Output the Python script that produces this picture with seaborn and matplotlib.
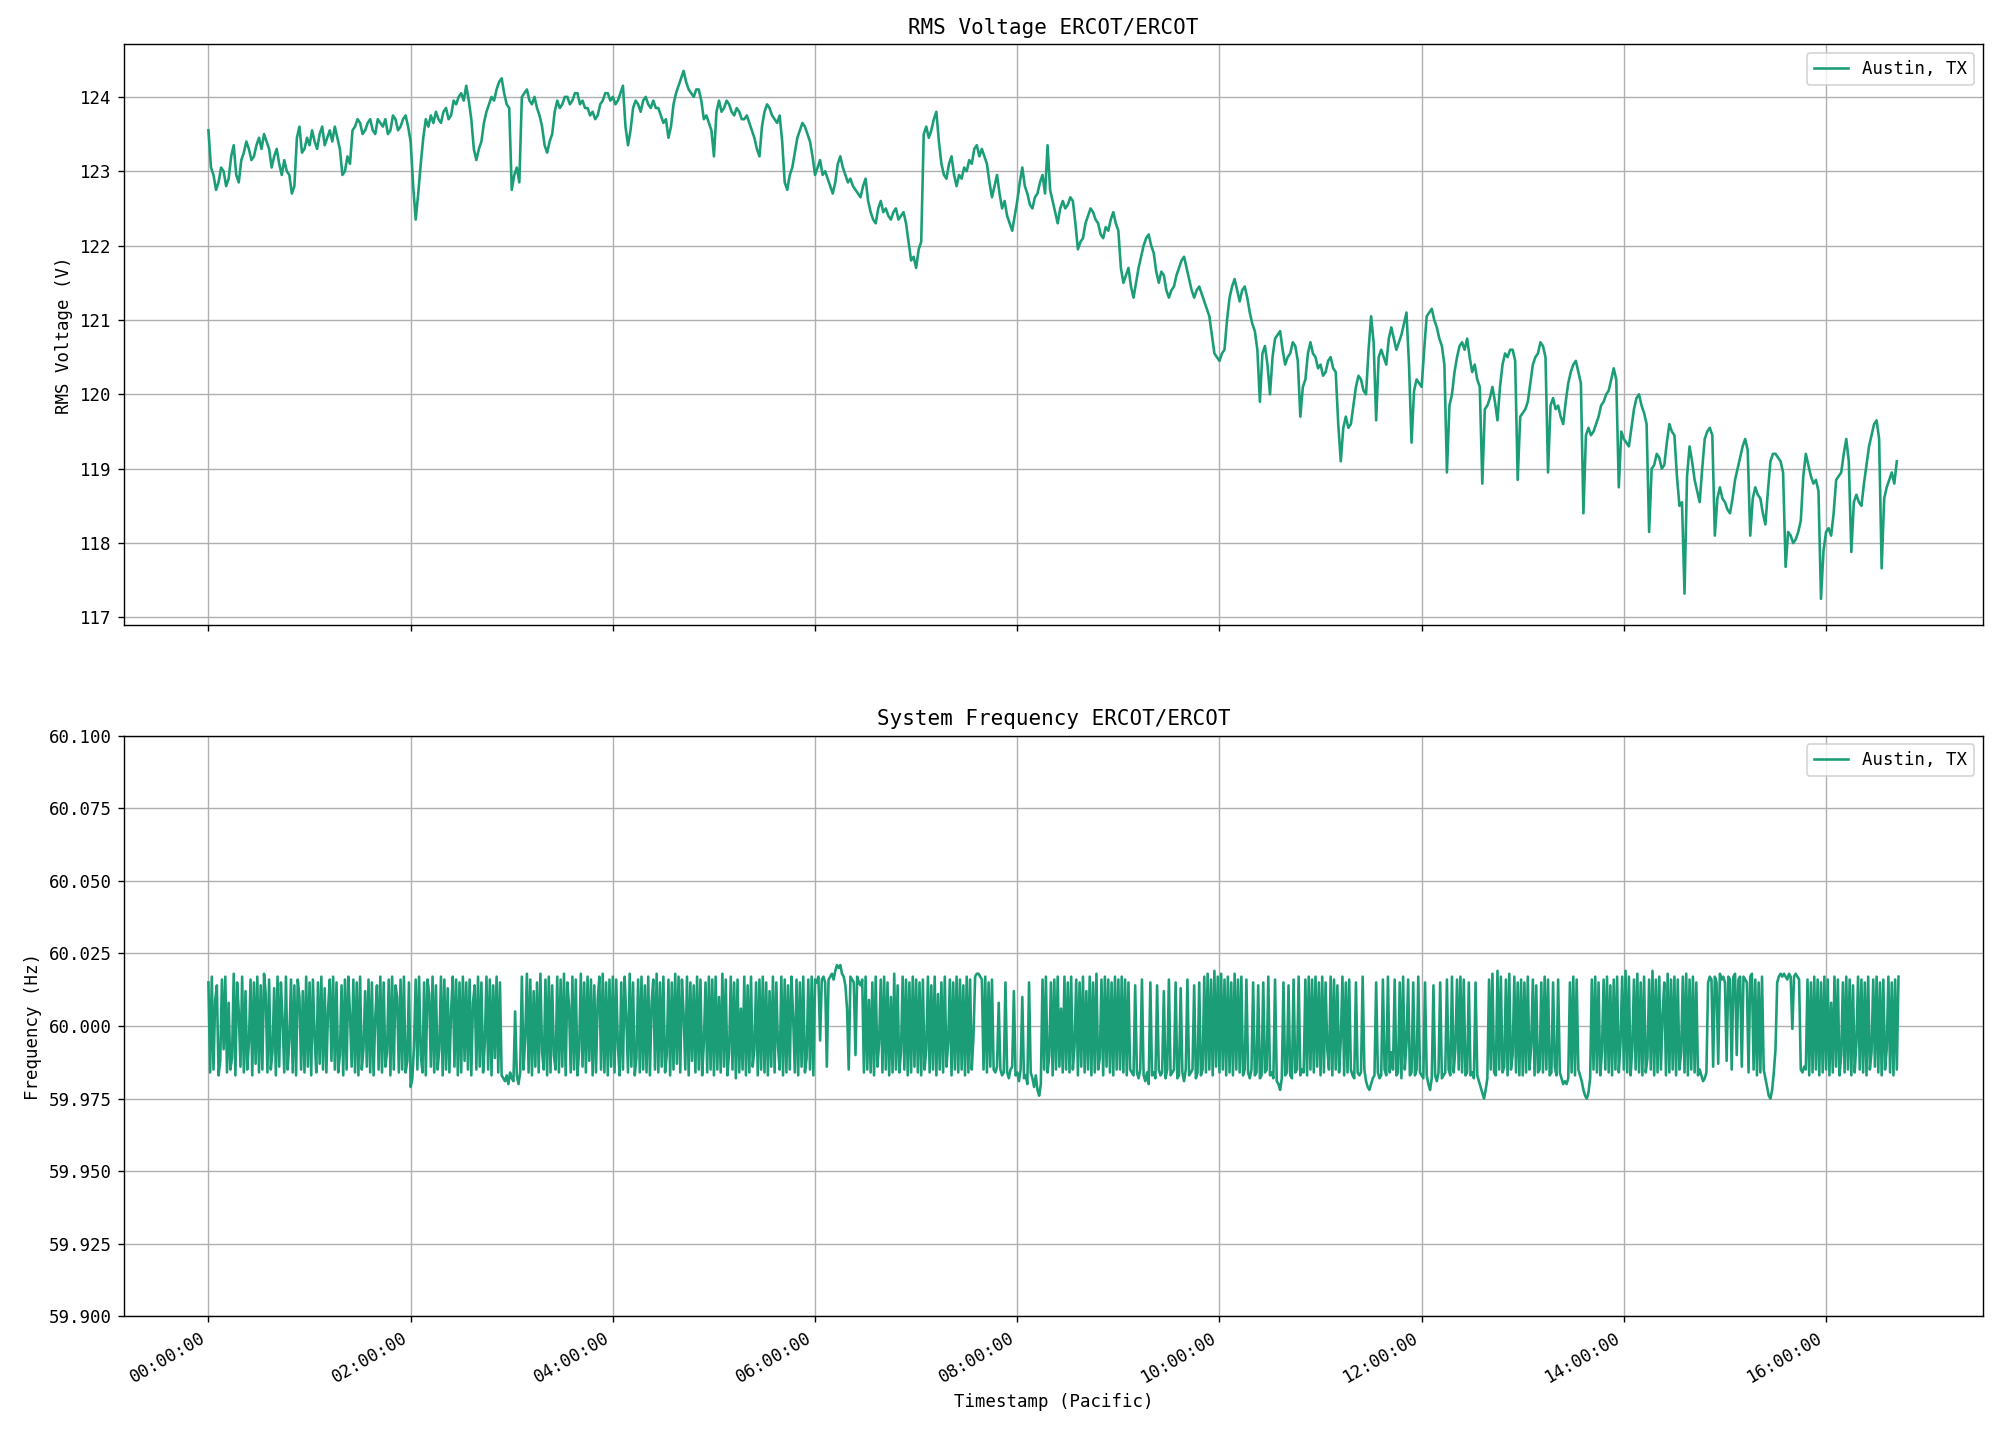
import numpy as np
import pandas as pd
import matplotlib
matplotlib.use("Agg")
import matplotlib.pyplot as plt
import matplotlib.dates as mdates
from matplotlib.ticker import MultipleLocator, FormatStrFormatter
import seaborn as sns

# ---------------- data ----------------
location = "Austin, TX"
start = "2023-01-01 00:00:00"
volt_step = "90s"
freq_step = "1min"

# RMS voltage (V), one row per hour, 90-second samples
volt_h00 = [123.55, 123.05, 122.95, 122.75, 122.85, 123.05, 123.0, 122.8, 122.9, 123.2, 123.35, 122.95, 122.85, 123.15, 123.25, 123.4, 123.3, 123.15, 123.2, 123.35, 123.45, 123.3, 123.5, 123.4, 123.3, 123.05, 123.2, 123.3, 123.1, 122.95, 123.15, 123.0, 122.95, 122.7, 122.8, 123.45, 123.6, 123.25, 123.3, 123.45]
volt_h01 = [123.35, 123.55, 123.4, 123.3, 123.5, 123.6, 123.35, 123.45, 123.55, 123.4, 123.6, 123.45, 123.3, 122.95, 123.0, 123.2, 123.1, 123.55, 123.6, 123.7, 123.65, 123.5, 123.55, 123.65, 123.7, 123.55, 123.5, 123.7, 123.65, 123.6, 123.7, 123.5, 123.55, 123.75, 123.7, 123.55, 123.6, 123.7, 123.75, 123.6]
volt_h02 = [123.4, 122.8, 122.35, 122.7, 123.1, 123.45, 123.7, 123.6, 123.75, 123.65, 123.8, 123.7, 123.65, 123.8, 123.85, 123.7, 123.75, 123.95, 123.9, 124.0, 124.05, 123.95, 124.15, 123.95, 123.7, 123.3, 123.15, 123.3, 123.4, 123.65, 123.8, 123.9, 124.0, 123.95, 124.1, 124.2, 124.25, 124.05, 123.9, 123.85]
volt_h03 = [122.75, 122.95, 123.05, 122.85, 124.0, 124.05, 124.1, 123.95, 123.9, 124.0, 123.85, 123.75, 123.6, 123.35, 123.25, 123.4, 123.5, 123.8, 123.95, 123.85, 123.9, 124.0, 124.0, 123.9, 123.95, 124.05, 124.05, 123.9, 123.95, 123.85, 123.85, 123.75, 123.8, 123.7, 123.75, 123.9, 123.95, 124.05, 124.05, 123.95]
volt_h04 = [124.0, 123.9, 123.95, 124.05, 124.15, 123.6, 123.35, 123.55, 123.85, 123.95, 123.9, 123.8, 123.95, 124.0, 123.9, 123.85, 123.95, 123.85, 123.85, 123.75, 123.65, 123.7, 123.45, 123.6, 123.9, 124.05, 124.15, 124.25, 124.35, 124.2, 124.1, 124.05, 124.0, 124.1, 124.1, 123.95, 123.7, 123.75, 123.65, 123.55]
volt_h05 = [123.2, 123.8, 123.95, 123.8, 123.85, 123.95, 123.9, 123.8, 123.75, 123.85, 123.8, 123.7, 123.7, 123.75, 123.65, 123.55, 123.45, 123.3, 123.2, 123.6, 123.8, 123.9, 123.85, 123.75, 123.7, 123.65, 123.75, 123.4, 122.85, 122.75, 122.95, 123.05, 123.25, 123.45, 123.55, 123.65, 123.6, 123.5, 123.4, 123.2]
volt_h06 = [122.95, 123.05, 123.15, 122.95, 123.0, 122.9, 122.8, 122.7, 122.85, 123.1, 123.2, 123.05, 122.95, 122.85, 122.9, 122.8, 122.75, 122.7, 122.65, 122.8, 122.9, 122.6, 122.45, 122.35, 122.3, 122.5, 122.6, 122.45, 122.5, 122.4, 122.35, 122.45, 122.5, 122.35, 122.4, 122.45, 122.3, 122.05, 121.8, 121.85]
volt_h07 = [121.7, 121.95, 122.05, 123.5, 123.6, 123.45, 123.55, 123.7, 123.8, 123.4, 123.1, 122.95, 122.9, 123.1, 123.2, 122.95, 122.8, 122.95, 122.9, 123.05, 123.0, 123.15, 123.1, 123.3, 123.35, 123.2, 123.3, 123.2, 123.1, 122.85, 122.65, 122.8, 122.95, 122.7, 122.5, 122.6, 122.4, 122.3, 122.2, 122.4]
volt_h08 = [122.6, 122.85, 123.05, 122.8, 122.7, 122.55, 122.5, 122.65, 122.7, 122.85, 122.95, 122.7, 123.35, 122.75, 122.6, 122.45, 122.3, 122.5, 122.6, 122.5, 122.55, 122.65, 122.6, 122.3, 121.95, 122.05, 122.1, 122.3, 122.4, 122.5, 122.45, 122.35, 122.3, 122.15, 122.1, 122.25, 122.2, 122.35, 122.45, 122.3]
volt_h09 = [122.2, 121.7, 121.5, 121.6, 121.7, 121.45, 121.3, 121.5, 121.7, 121.85, 122.0, 122.1, 122.15, 122.0, 121.9, 121.65, 121.5, 121.65, 121.6, 121.4, 121.3, 121.4, 121.45, 121.6, 121.7, 121.8, 121.85, 121.7, 121.55, 121.4, 121.3, 121.4, 121.45, 121.35, 121.25, 121.15, 121.05, 120.8, 120.55, 120.5]
volt_h10 = [120.45, 120.55, 120.6, 121.0, 121.3, 121.45, 121.55, 121.4, 121.25, 121.4, 121.45, 121.3, 121.1, 120.95, 120.85, 120.6, 119.9, 120.55, 120.65, 120.4, 120.0, 120.5, 120.75, 120.8, 120.85, 120.6, 120.4, 120.5, 120.55, 120.7, 120.65, 120.45, 119.7, 120.1, 120.2, 120.55, 120.7, 120.55, 120.5, 120.35]
volt_h11 = [120.4, 120.25, 120.3, 120.45, 120.5, 120.35, 120.3, 119.6, 119.1, 119.55, 119.7, 119.55, 119.6, 119.85, 120.1, 120.25, 120.2, 120.05, 120.0, 120.6, 121.05, 120.7, 119.65, 120.5, 120.6, 120.5, 120.4, 120.75, 120.9, 120.75, 120.6, 120.7, 120.8, 120.95, 121.1, 120.4, 119.35, 120.05, 120.2, 120.15]
volt_h12 = [120.1, 120.6, 121.05, 121.1, 121.15, 121.0, 120.9, 120.75, 120.65, 120.4, 118.95, 119.85, 120.0, 120.3, 120.5, 120.65, 120.7, 120.6, 120.75, 120.5, 120.3, 120.4, 120.2, 120.1, 118.8, 119.8, 119.85, 119.95, 120.1, 119.9, 119.65, 120.1, 120.4, 120.55, 120.5, 120.6, 120.6, 120.45, 118.85, 119.7]
volt_h13 = [119.75, 119.8, 119.9, 120.15, 120.4, 120.5, 120.55, 120.7, 120.65, 120.5, 118.95, 119.85, 119.95, 119.8, 119.85, 119.7, 119.6, 119.9, 120.15, 120.3, 120.4, 120.45, 120.3, 120.15, 118.4, 119.45, 119.55, 119.45, 119.5, 119.6, 119.7, 119.85, 119.9, 120.0, 120.05, 120.2, 120.35, 120.2, 118.75, 119.5]
volt_h14 = [119.4, 119.35, 119.3, 119.55, 119.8, 119.95, 120.0, 119.85, 119.75, 119.6, 118.15, 119.0, 119.05, 119.2, 119.15, 119.0, 119.05, 119.35, 119.6, 119.5, 119.45, 118.9, 118.5, 118.55, 117.32, 118.9, 119.3, 119.1, 118.85, 118.7, 118.55, 119.0, 119.4, 119.5, 119.55, 119.45, 118.1, 118.6, 118.75, 118.6]
volt_h15 = [118.55, 118.45, 118.4, 118.6, 118.85, 119.0, 119.15, 119.3, 119.4, 119.25, 118.1, 118.6, 118.75, 118.65, 118.6, 118.4, 118.25, 118.7, 119.1, 119.2, 119.2, 119.15, 119.1, 118.95, 117.68, 118.15, 118.1, 118.0, 118.05, 118.15, 118.3, 118.9, 119.2, 119.05, 118.9, 118.8, 118.85, 118.7, 117.25, 117.9]
volt_h16 = [118.15, 118.2, 118.1, 118.4, 118.85, 118.9, 118.95, 119.2, 119.4, 119.1, 117.88, 118.55, 118.65, 118.55, 118.5, 118.8, 119.05, 119.3, 119.45, 119.6, 119.65, 119.4, 117.66, 118.6, 118.75, 118.85, 118.95, 118.8, 119.1]

# System frequency deviation from 60 Hz in mHz, one row per half hour, 1-minute samples
freq_r00a = [15,-16,17,-15,9,14,-17,-12,16,-8,17,-16,8,-15,-11,18,-17,15,5,-14,17,-16,12,-15,-6,16,-17,15,-13,17]
freq_r00b = [-16,14,-15,18,11,-16,16,-15,-9,13,-17,17,-14,15,2,-16,17,-15,-5,16,-16,14,-17,16,10,-15,12,-16,17,-14]
freq_r01a = [15,-17,16,-4,-16,15,-13,17,-15,13,-16,6,16,-12,17,-15,15,-16,-10,14,-17,16,-15,17,4,-14,16,-16,15,-17]
freq_r01b = [17,-15,-8,12,-14,16,-16,15,-17,3,14,-15,17,-16,15,-14,-9,16,-17,17,-15,14,10,-16,16,-15,17,-16,-12,15]
freq_r02a = [-21,-18,-7,16,-15,17,-10,-16,15,-17,16,11,-14,17,-16,14,-15,-8,17,-17,16,-15,13,-16,5,17,-14,16,-17,15]
freq_r02b = [-16,17,-12,15,-15,16,-17,8,14,-15,17,-14,15,-16,-6,17,-15,16,-17,14,-11,17,-16,15,-17,-18,-19,-17,-20,-16]
freq_r03a = [-18,-19,5,-17,-20,-16,17,-15,-4,18,-16,16,-17,12,-14,15,-16,18,-9,-15,16,-17,17,-16,14,-10,-15,17,-16,16]
freq_r03b = [-14,18,-17,15,7,-16,17,-15,16,-17,-8,18,-14,15,-16,17,-12,16,-17,14,-16,9,17,-15,18,-16,15,-17,16,-14]
freq_r04a = [17,-16,16,-7,-17,15,-15,17,3,-16,18,-14,15,-17,-11,16,-16,17,-15,14,-16,17,-17,8,16,-15,18,-16,15,-14]
freq_r04b = [17,-16,-10,16,-17,15,-15,18,-13,17,-16,16,4,-15,17,-17,15,-12,14,-16,17,-15,16,-17,-6,15,-16,17,-15,16]
freq_r05a = [-17,17,-15,10,-16,18,-14,16,-17,-9,17,-15,15,-18,16,-16,6,-15,17,-17,14,-16,17,-14,-8,15,-17,16,-15,17]
freq_r05b = [-16,15,-17,12,-14,17,-16,15,-7,-15,17,-17,16,-16,14,-15,17,3,-16,16,-17,15,-14,17,-16,-11,16,-15,17,-17]
freq_r06a = [16,15,17,-5,16,17,15,-14,16,17,18,16,19,21,20,21,18,17,14,6,-15,17,16,15,-10,17,15,14,16,-16]
freq_r06b = [17,-15,9,-16,15,-17,17,-14,-6,16,-16,17,-15,15,-17,10,-16,18,-15,14,-16,-9,17,-15,16,-17,15,-16,17,-14]
freq_r07a = [16,-16,15,-17,16,-15,-8,17,-16,14,-15,17,-17,11,-15,15,-16,17,-14,-6,16,-17,15,-15,17,-16,16,-15,14,-17]
freq_r07b = [17,-16,16,-15,-4,17,18,18,17,16,-15,17,-16,15,-14,16,-15,-16,-14,8,-15,-17,-16,15,-16,-18,-15,-14,12,-17]
freq_r08a = [-16,-19,-15,10,-18,-17,-20,15,-16,-18,-21,-17,-22,-24,-20,16,-15,17,-16,-10,15,-17,16,-15,17,-14,6,-16,17,-15]
freq_r08b = [15,-16,17,-15,-7,16,-17,15,-14,17,-16,12,-15,17,-17,15,-16,18,-15,-11,16,-17,17,-14,16,-16,15,-17,17,-15]
freq_r09a = [16,-15,17,-16,16,-17,15,-15,-16,-17,14,-16,-18,-15,16,-17,-19,-16,-20,15,-17,-16,-18,14,-15,-17,-16,12,-18,-15]
freq_r09b = [16,-17,-16,-15,15,-18,-17,13,-16,-19,-15,16,-17,-16,-15,14,-18,-16,15,-17,-15,17,-16,18,-15,16,-17,19,-14,17]
freq_r10a = [-16,18,-15,16,-17,17,-16,15,-17,18,-15,16,-16,17,-17,-15,16,-16,-18,-15,15,-17,-16,14,-18,-17,15,-16,-15,17]
freq_r10b = [-17,-16,-18,16,-19,-20,-22,-18,15,-17,-16,14,-17,-18,16,-16,-15,17,-17,-15,-16,16,-17,17,-15,16,-16,17,-14,15]
freq_r11a = [-17,17,-16,15,-8,-15,17,-17,16,-15,14,-16,-5,17,-17,15,-16,16,-15,-17,-18,15,-16,-17,-16,17,-15,-19,-21,-22]
freq_r11b = [-20,-18,-17,15,-16,-18,-17,16,-15,-17,17,-16,-9,-15,16,-17,-16,15,-18,17,-15,-6,16,-17,-16,15,-17,-15,17,-16]
freq_r12a = [-17,-18,15,-17,-20,-22,-18,14,-17,-19,-16,15,-18,-17,-16,16,-15,-17,17,-16,-8,16,-15,17,-16,16,-17,-16,15,-17]
freq_r12b = [-16,-18,15,-17,-19,-21,-23,-25,-22,-18,16,-15,18,-16,-17,19,-15,17,-16,-14,16,-17,18,-15,-10,17,-16,15,-17,16]
freq_r13a = [-17,15,-16,17,-15,-7,16,-17,14,-16,-15,15,-16,17,-15,16,-17,-16,15,-14,-17,16,-16,-18,-20,-19,-20,-18,15,-16]
freq_r13b = [17,-17,16,-15,-17,-19,-22,-24,-25,-23,-18,16,-15,17,-16,15,-17,-9,16,-15,17,-16,14,-17,16,-15,17,-16,-6,17]
freq_r14a = [-15,19,-16,17,-17,-8,16,-15,18,-16,15,-17,17,-16,-11,16,-15,19,-17,16,-16,17,-15,4,15,-17,18,-16,16,-15]
freq_r14b = [17,-17,16,-15,-9,17,-16,18,-17,16,-15,17,-16,15,-17,-15,-17,-19,-18,-16,15,17,16,-14,17,15,-13,18,16,17]
freq_r15a = [15,-12,17,16,-15,17,18,-10,16,17,-14,17,16,15,-16,17,18,-15,16,-17,15,-16,17,-15,-18,-21,-24,-25,-22,-16]
freq_r15b = [-8,15,17,18,17,18,17,16,18,17,-1,17,18,17,16,-15,-16,-14,-15,16,-17,15,-16,17,-15,16,-17,15,-16,17]
freq_r16a = [-15,16,-17,8,-16,17,-14,16,-17,-10,15,-16,17,-15,16,-17,14,-16,-6,17,-15,16,-16,15,-17,17,-15,-9,16,-14]
freq_r16b = [17,-16,15,-17,16,-15,-8,17,-16,15,-17,16,-15,17]

volt_rows = [volt_h00, volt_h01, volt_h02, volt_h03, volt_h04, volt_h05, volt_h06, volt_h07,
             volt_h08, volt_h09, volt_h10, volt_h11, volt_h12, volt_h13, volt_h14, volt_h15, volt_h16]
freq_rows = [freq_r00a, freq_r00b, freq_r01a, freq_r01b, freq_r02a, freq_r02b, freq_r03a, freq_r03b,
             freq_r04a, freq_r04b, freq_r05a, freq_r05b, freq_r06a, freq_r06b, freq_r07a, freq_r07b,
             freq_r08a, freq_r08b, freq_r09a, freq_r09b, freq_r10a, freq_r10b, freq_r11a, freq_r11b,
             freq_r12a, freq_r12b, freq_r13a, freq_r13b, freq_r14a, freq_r14b, freq_r15a, freq_r15b,
             freq_r16a, freq_r16b]

volt_values = [v for row in volt_rows for v in row]
freq_values = [60.0 + m / 1000.0 for row in freq_rows for m in row]

volt_df = pd.DataFrame({
    "Timestamp": pd.date_range(start, periods=len(volt_values), freq=volt_step),
    "RMS Voltage": volt_values,
})
freq_df = pd.DataFrame({
    "Timestamp": pd.date_range(start, periods=len(freq_values), freq=freq_step),
    "Frequency": freq_values,
})

# ---------------- plot ----------------
plt.rcParams["font.family"] = ["DejaVu Sans Mono", "DejaVu Sans"]
color = sns.color_palette("Dark2")[0]

fig, (ax1, ax2) = plt.subplots(2, 1, figsize=(1999 / 125, 1434 / 125), dpi=125, sharex=True)

sns.lineplot(data=volt_df, x="Timestamp", y="RMS Voltage", ax=ax1, color=color,
             label=location, estimator=None, linewidth=1.5)
sns.lineplot(data=freq_df, x="Timestamp", y="Frequency", ax=ax2, color=color,
             label=location, estimator=None, linewidth=1.5)

for ax in (ax1, ax2):
    ax.grid(True, color="#b0b0b0", linewidth=0.8)
    ax.set_axisbelow(True)
    ax.legend(loc="upper right")

ax1.set_title("RMS Voltage ERCOT/ERCOT")
ax1.set_ylabel("RMS Voltage (V)")
ax1.set_xlabel("")
ax1.yaxis.set_major_locator(MultipleLocator(1))

ax2.set_title("System Frequency ERCOT/ERCOT")
ax2.set_ylabel("Frequency (Hz)")
ax2.set_xlabel("Timestamp (Pacific)")
ax2.set_ylim(59.9, 60.1)
ax2.yaxis.set_major_locator(MultipleLocator(0.025))
ax2.yaxis.set_major_formatter(FormatStrFormatter("%.3f"))

ax2.xaxis.set_major_locator(mdates.HourLocator(byhour=range(0, 24, 2)))
ax2.xaxis.set_major_formatter(mdates.DateFormatter("%H:%M:%S"))
fig.autofmt_xdate()

fig.subplots_adjust(left=0.062, right=0.992, top=0.969, bottom=0.082, hspace=0.19)
fig.savefig("out.png", dpi=125)
